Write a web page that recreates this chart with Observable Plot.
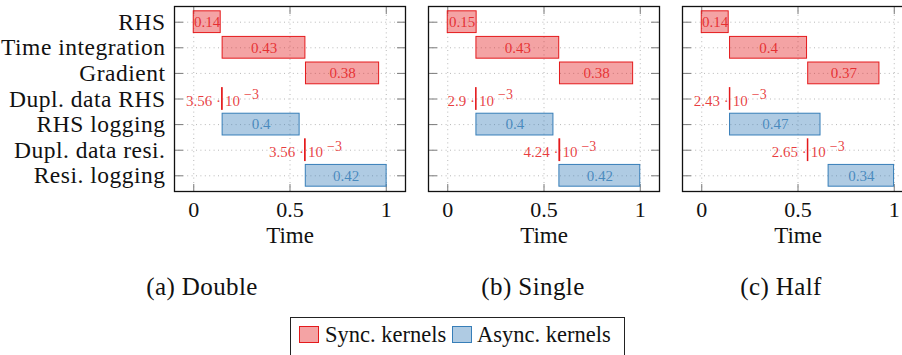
<!DOCTYPE html>
<html><head><meta charset="utf-8">
<script src="https://cdn.jsdelivr.net/npm/d3@7"></script>
<script src="https://cdn.jsdelivr.net/npm/@observablehq/plot@0.6"></script>
<style>
html,body{margin:0;padding:0;background:#fff;overflow:hidden;}
#root{position:relative;width:902px;height:355px;overflow:hidden;font-family:"Liberation Serif","DejaVu Serif",serif;color:#111;}
.panel{position:absolute;top:0;}
.panel text{font-family:"Liberation Serif","DejaVu Serif",serif;}
.caption{position:absolute;top:287px;font-size:25px;letter-spacing:0.4px;transform:translate(-50%,-50%);white-space:nowrap;}
#legend{position:absolute;left:290px;top:317px;width:335px;height:50px;border:1px solid #222;box-sizing:border-box;}
.sw{position:absolute;top:8px;width:20px;height:17px;box-sizing:border-box;}
.lt{position:absolute;top:4px;font-size:22.5px;white-space:nowrap;}
g[aria-label="value label"] text{letter-spacing:1.4px}
g[aria-label="dupl label"] text{letter-spacing:1.1px}
g[aria-label="y-axis tick label"] text{letter-spacing:0.5px}
g[aria-label="axis title"] text{letter-spacing:0.6px}
</style>
</head><body>
<div id="root"></div>
<script>
const panels = ["Double", "Single", "Half"];
const captions = ["(a) Double", "(b) Single", "(c) Half"];
const tasks = ["RHS", "Time integration", "Gradient", "Dupl. data RHS", "RHS logging", "Dupl. data resi.", "Resi. logging"];
const kinds = ["Sync", "Sync", "Sync", "Sync", "Async", "Sync", "Async"];
const startsDouble = [0, 0.15, 0.583, 0.147, 0.15, 0.578, 0.582];
const dursDouble   = [0.14, 0.43, 0.38, 0.00356, 0.4, 0.00356, 0.42];
const startsSingle = [0, 0.149, 0.583, 0.147, 0.149, 0.58, 0.58];
const dursSingle   = [0.15, 0.43, 0.38, 0.0029, 0.4, 0.00424, 0.42];
const startsHalf   = [0, 0.147, 0.553, 0.146, 0.147, 0.551, 0.659];
const dursHalf     = [0.14, 0.4, 0.37, 0.00243, 0.47, 0.00265, 0.34];
const xTicks = [0, 0.5, 1];
const xTitle = "Time";
const kindNames = ["Sync", "Async"];
const kindColors = ["#e41a1c", "#377eb8"];
const legendLabels = ["Sync. kernels", "Async. kernels"];

const starts = [startsDouble, startsSingle, startsHalf];
const durs = [dursDouble, dursSingle, dursHalf];
const layout = [{left: 0, ml: 174}, {left: 410, ml: 18}, {left: 664, ml: 18}];
const FW = 231;
const FONT = "Liberation Serif, DejaVu Serif, serif";
const fmtDupl = d => String(+(d * 1000).toFixed(2));

function panel(st, du, showY, ml) {
  const rows = tasks.map((t, i) => ({task: t, kind: kinds[i], start: st[i], dur: du[i], dupl: t.startsWith("Dupl")}));
  const bars = rows.filter(d => !d.dupl), dup = rows.filter(d => d.dupl);
  const tickStyle = {tickSize: 8, text: null, label: null, stroke: "#7a7a7a"};
  return Plot.plot({
    width: ml + FW + 6, height: 262,
    marginLeft: ml, marginRight: 6, marginTop: 6, marginBottom: 71,
    style: {fontFamily: FONT, fontSize: "22px", background: "transparent", color: "#111", overflow: "visible"},
    x: {domain: [-0.1, 1.1], axis: null},
    y: {domain: tasks, paddingInner: 0.15, paddingOuter: 0.188, axis: null, round: false},
    color: {domain: kindNames, range: kindColors},
    marks: [
      Plot.gridX(xTicks, {stroke: "#b8b8b8", strokeOpacity: 1, strokeDasharray: "1,3.4"}),
      Plot.gridY({stroke: "#b8b8b8", strokeOpacity: 1, strokeDasharray: "1,3.4"}),
      Plot.axisY({anchor: "right", dx: -FW, ...tickStyle}),
      Plot.axisY({anchor: "left", dx: FW, ...tickStyle}),
      Plot.axisX(xTicks, {anchor: "top", dy: 185, ...tickStyle}),
      Plot.axisX(xTicks, {anchor: "bottom", dy: -185, ...tickStyle}),
      Plot.barX(rows, {y: "task", x1: "start", x2: d => d.start + d.dur, fill: "kind", fillOpacity: 0.4, stroke: "kind", strokeWidth: 1}),
      Plot.text(bars, {y: "task", x: d => d.start + d.dur / 2, text: d => String(d.dur), fill: "kind", fillOpacity: 0.85, fontSize: 15, ariaLabel: "value label"}),
      Plot.text(dup, {y: "task", x: "start", text: d => fmtDupl(d.dur) + " ·", textAnchor: "end", dx: -1, dy: 2, fill: "kind", fillOpacity: 0.85, fontSize: 15, ariaLabel: "dupl label"}),
      Plot.text(dup, {y: "task", x: "start", text: () => "10", textAnchor: "start", dx: 3, dy: 2, fill: "kind", fillOpacity: 0.85, fontSize: 15, ariaLabel: "dupl label"}),
      Plot.text(dup, {y: "task", x: "start", text: () => "\u22123", textAnchor: "start", dx: 22, dy: -4, fill: "kind", fillOpacity: 0.85, fontSize: 14, ariaLabel: "dupl label"}),
      Plot.frame({stroke: "#111", strokeWidth: 1.3}),
      Plot.axisX(xTicks, {anchor: "bottom", tickSize: 0, tickPadding: 10, tickFormat: d => String(d), fontSize: 22, label: null}),
      Plot.text([xTitle], {frameAnchor: "bottom", dy: 51, fontSize: 23, ariaLabel: "axis title"}),
      showY ? Plot.axisY({anchor: "left", tickSize: 0, tickPadding: 9, label: null, fontSize: 23.5}) : null
    ]
  });
}

const root = document.getElementById("root");
panels.forEach((p, i) => {
  const svg = panel(starts[i], durs[i], i === 0, layout[i].ml);
  svg.classList.add("panel");
  svg.style.left = layout[i].left + "px";
  root.appendChild(svg);
});
const capX = [202, 533, 781];
captions.forEach((c, i) => {
  const d = document.createElement("div");
  d.className = "caption"; d.textContent = c; d.style.left = capX[i] + "px";
  root.appendChild(d);
});
const lg = document.createElement("div");
lg.id = "legend";
const swX = [8, 161], txX = [34, 186];
legendLabels.forEach((l, i) => {
  const sw = document.createElement("div");
  sw.className = "sw"; sw.style.left = swX[i] + "px";
  sw.style.background = d3.interpolateRgb("#ffffff", kindColors[i])(0.4);
  sw.style.border = "1px solid " + kindColors[i];
  const t = document.createElement("div");
  t.className = "lt"; t.textContent = l; t.style.left = txX[i] + "px";
  lg.appendChild(sw); lg.appendChild(t);
});
root.appendChild(lg);
</script>
</body></html>
